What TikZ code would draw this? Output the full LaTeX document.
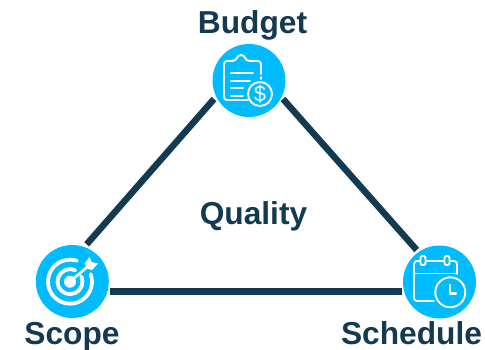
\documentclass[tikz,border=0pt]{standalone}
\usepackage{fontspec}
\setmainfont{Liberation Sans}
\definecolor{navy}{HTML}{143A52}
\definecolor{sky}{HTML}{00BCFF}
\tikzset{
  lbl/.style={anchor=base,text=navy,font=\fontsize{31.7}{36}\selectfont\bfseries,inner sep=0pt},
  edge/.style={draw=navy,line width=6.5pt},
  disc/.style={circle,fill=sky,minimum size=73pt,inner sep=0pt},
  ico/.style={draw=white,line width=1.9pt,line cap=round,line join=round}
}
\begin{document}
\begin{tikzpicture}[x=1pt,y=-1pt]
\useasboundingbox (0,0) rectangle (485,350);
\node[disc] (budget) at (249,80.5) {};
\node[disc] (scope) at (72.3,281.5) {};
\node[disc] (schedule) at (439.5,282) {};
\coordinate (b1) at (214,99);
\coordinate (s1) at (86.7,244.3);
\coordinate (b2) at (283,99);
\coordinate (h1) at (416.7,250);
\coordinate (s2) at (110,291.7);
\coordinate (h2) at (401.7,291.7);
\draw[edge] (b1) -- (s1);
\draw[edge] (b2) -- (h1);
\draw[edge] (s2) -- (h2);
\node[lbl] (tb) at (252.5,33.5) {Budget};
\node[lbl] (tq) at (253.5,225) {Quality};
\node[lbl] (ts) at (72,344) {Scope};
\node[lbl] (th) at (411.5,344) {Schedule};
% clipboard icon
\draw[ico] (248,100) -- (227,100) arc (90:180:3) -- (224,64) arc (180:270:3) -- (232,61);
\draw[ico] (232,61) .. controls (238,61) and (236,55) .. (241,55) .. controls (246,55) and (244,61) .. (250,61) -- (258,61) arc (-90:0:3) -- (261,72);
\draw[ico,dash pattern=on 2pt off 3pt] (261,72) -- (261,81);
\draw[ico] (231,73) -- (253,73) (231,81) -- (250,81) (231,88) -- (243,88) (231,96) -- (243,96);
\draw[ico] (260,94) circle (12);
\node[text=white,font=\fontsize{22}{22}\selectfont,inner sep=0pt] (dollar) at (260,94) {\$};
% target icon
\fill[white] (70,281.7) circle (6);
\draw[ico,line width=3.8pt] (70,281.7) ++(-25:12.5) arc (-25:295:12.5);
\draw[ico,line width=3.8pt] (70,281.7) ++(-20:22) arc (-20:288:22);
\draw[ico,line width=2.6pt] (70,281.7) -- (89,265.5);
\fill[white] (85,263) -- (89.5,257) -- (91.5,262) -- (98,263.5) -- (92,270) -- (86.5,268.5) -- cycle;
% calendar icon
\draw[ico] (434,301) -- (417,301) arc (90:180:3) -- (414,264) arc (180:270:3) -- (454,261) arc (-90:0:3) -- (457,274);
\draw[ico] (414,273.5) -- (457,273.5);
\draw[ico,fill=sky,rounded corners=2pt] (420.5,265) rectangle (425.5,256);
\draw[ico,fill=sky,rounded corners=2pt] (444.5,265) rectangle (449.5,256);
\draw[ico,fill=sky] (450.3,292.3) circle (15);
\draw[ico,line width=2.2pt] (450.3,285) -- (450.3,293.5) -- (456,293.5);
\end{tikzpicture}
\end{document}
